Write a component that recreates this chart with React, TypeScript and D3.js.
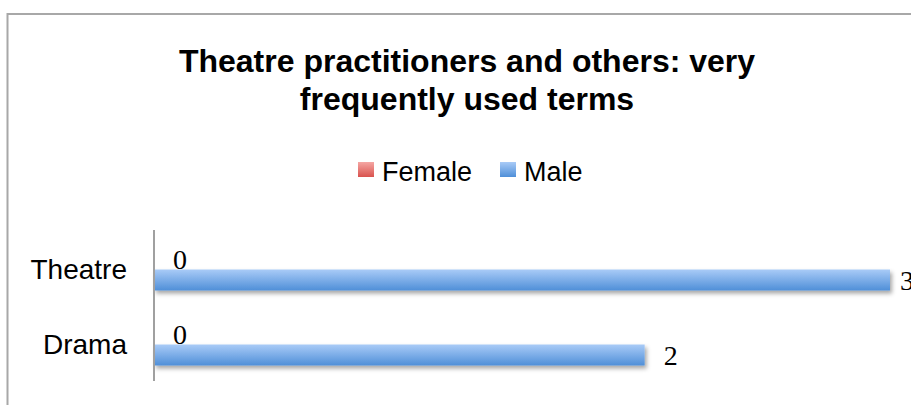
import * as d3 from "d3";

const categories = ["Theatre", "Drama"];
const seriesNames = ["Female", "Male"];
const femaleValues = [0, 0];
const maleValues = [3, 2];
const titleLines = ["Theatre practitioners and others: very", "frequently used terms"];

const W = 911;
const H = 405;
const SANS = "'Liberation Sans', Arial, sans-serif";
const SERIF = "'Liberation Serif', 'Times New Roman', serif";

const seriesValues = [femaleValues, maleValues];
const gradIds = ["gradFemale", "gradMale"];

export default function App() {
  const x = d3.scaleLinear().domain([0, 3]).range([154, 890]);
  const y = d3
    .scaleBand<string>()
    .domain(categories)
    .range([232, 382])
    .paddingInner(0.44)
    .paddingOuter(0.22);
  const ySub = d3
    .scaleBand<string>()
    .domain(seriesNames)
    .range([0, y.bandwidth()]);

  // legend layout
  const legendItems = [
    { name: "Female", x: 358, grad: "gradFemale" },
    { name: "Male", x: 500, grad: "gradMale" },
  ];

  return (
    <svg
      width={W}
      height={H}
      style={{ position: "absolute", left: 0, top: 0, background: "#fff" }}
    >
      <defs>
        <linearGradient id="gradMale" x1="0" y1="0" x2="0" y2="1">
          <stop offset="0%" stopColor="#a9cbf7" />
          <stop offset="100%" stopColor="#4f8fd8" />
        </linearGradient>
        <linearGradient id="gradFemale" x1="0" y1="0" x2="0" y2="1">
          <stop offset="0%" stopColor="#f5a6a3" />
          <stop offset="100%" stopColor="#d9534e" />
        </linearGradient>
        <filter id="shadow" x="-5%" y="-50%" width="110%" height="250%">
          <feDropShadow dx="2" dy="3" stdDeviation="2" floodColor="#000" floodOpacity="0.35" />
        </filter>
      </defs>

      {/* outer chart border, cut off at right and bottom */}
      <path d={`M7.5,${H + 5} V14 H${W + 5}`} fill="none" stroke="#a8a8a8" strokeWidth={2} />

      {/* title */}
      {titleLines.map((t, i) => (
        <text
          key={t}
          x={467}
          y={72 + i * 38}
          textAnchor="middle"
          fontFamily={SANS}
          fontWeight="bold"
          fontSize={32}
          fill="#000"
        >
          {t}
        </text>
      ))}

      {/* legend */}
      {legendItems.map((d) => (
        <g key={d.name}>
          <rect x={d.x} y={162} width={16} height={15} fill={`url(#${d.grad})`} />
          <text x={d.x + 24} y={181} fontFamily={SANS} fontSize={27} fill="#000">
            {d.name}
          </text>
        </g>
      ))}

      {/* category labels */}
      {categories.map((c) => (
        <text
          key={c}
          x={127}
          y={(y(c) ?? 0) + y.bandwidth() / 2}
          dy="0.35em"
          textAnchor="end"
          fontFamily={SANS}
          fontSize={28}
          fill="#000"
        >
          {c}
        </text>
      ))}

      {/* bars */}
      {seriesNames.map((s, si) =>
        categories.map((c, ci) => {
          const v = seriesValues[si][ci];
          const y0 = (y(c) ?? 0) + (ySub(s) ?? 0);
          const w = x(v) - x(0);
          return (
            <g key={s + c}>
              {w > 0 && (
                <rect
                  x={x(0)}
                  y={y0}
                  width={w}
                  height={ySub.bandwidth()}
                  fill={`url(#${gradIds[si]})`}
                  filter="url(#shadow)"
                />
              )}
              <text
                x={Math.min(x(v) + 19, 900)}
                y={y0 + ySub.bandwidth() / 2}
                dy="0.35em"
                fontFamily={SERIF}
                fontSize={28}
                fill="#000"
              >
                {v}
              </text>
            </g>
          );
        })
      )}

      {/* vertical category axis */}
      <line x1={x(0)} x2={x(0)} y1={230} y2={381} stroke="#a0a0a0" strokeWidth={2} />
    </svg>
  );
}
